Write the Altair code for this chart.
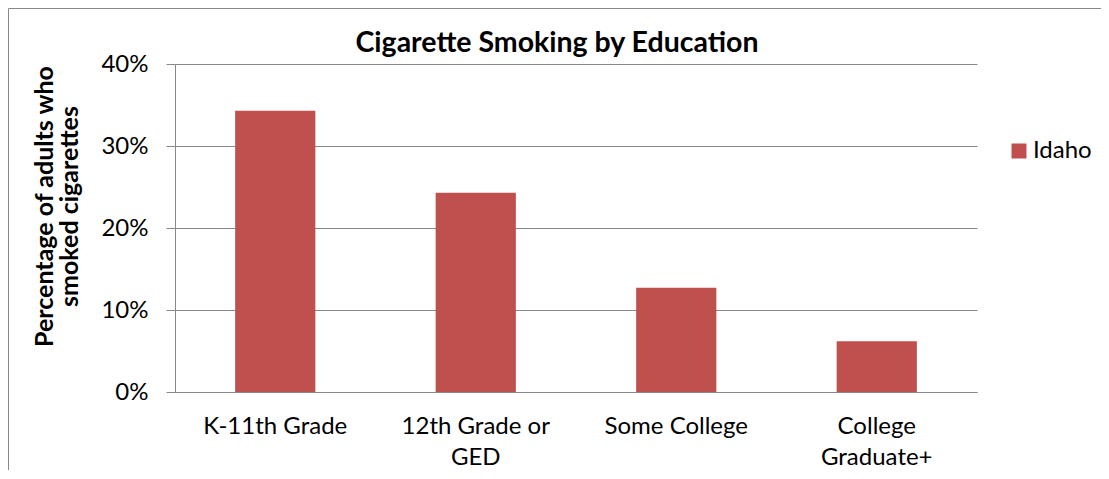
import altair as alt
import pandas as pd

categories = ["K-11th Grade", "12th Grade or GED", "Some College", "College Graduate+"]
values = [34.3, 24.3, 12.7, 6.2]
series = ["Idaho", "Idaho", "Idaho", "Idaho"]
y_ticks = [0, 10, 20, 30, 40]

df = pd.DataFrame({"Education": categories, "Pct": values, "Series": series})

FONT = "Lato"
GRAY = "#888888"
RED = "#C0504D"

label_expr = ("datum.label == '12th Grade or GED' ? ['12th Grade or', 'GED'] : "
              "datum.label == 'College Graduate+' ? ['College', 'Graduate+'] : datum.label")

bars = alt.Chart(df).mark_bar().encode(
    x=alt.X("Education:N", sort=categories,
            scale=alt.Scale(paddingInner=0.6, paddingOuter=0.3),
            axis=alt.Axis(title=None, labelAngle=0, labelExpr=label_expr,
                          labelFont=FONT, labelFontSize=24, labelColor="black",
                          labelLineHeight=31, labelPadding=22, labelBaseline="top",
                          domainColor=GRAY, domainWidth=1, ticks=False)),
    y=alt.Y("Pct:Q", scale=alt.Scale(domain=[0, 40]),
            axis=alt.Axis(values=y_ticks, labelExpr="datum.value + '%'",
                          title=["Percentage of adults who", "smoked cigarettes"],
                          titleFont=FONT, titleFontSize=25, titleFontWeight="bold",
                          titleColor="black", titleAngle=-90, titleAlign="center",
                          titleBaseline="middle", titleX=-131, titleY=142,
                          titleLineHeight=25,
                          labelFont=FONT, labelFontSize=24, labelColor="black",
                          labelPadding=18, tickSize=9, tickColor=GRAY,
                          domainColor=GRAY, grid=True, gridColor=GRAY, gridWidth=1)),
    color=alt.Color("Series:N", scale=alt.Scale(range=[RED]),
                    legend=alt.Legend(title=None, orient="none", legendX=832, legendY=75,
                                      symbolType="square", symbolSize=225,
                                      symbolStrokeWidth=0, symbolOpacity=1,
                                      labelFont=FONT, labelFontSize=24, labelColor="black",
                                      labelOffset=2, padding=0)),
)

frame_src = alt.Chart(pd.DataFrame({"k": [0]}))
frame_top = frame_src.mark_rule(color=GRAY, strokeWidth=1).encode(
    x=alt.value(-166.5), x2=alt.value(1200), y=alt.value(-55.5))
frame_left = frame_src.mark_rule(color=GRAY, strokeWidth=1).encode(
    x=alt.value(-166.5), y=alt.value(-55.5), y2=alt.value(600))

chart = alt.layer(frame_top, frame_left, bars).properties(
    width=802, height=328,
    autosize=alt.AutoSizeParams(type="none"),
    padding={"left": 167, "top": 56, "right": 124, "bottom": 78},
    title=alt.TitleParams("Cigarette Smoking by Education", font=FONT, fontSize=28.5,
                          fontWeight="bold", color="black", anchor="middle",
                          frame="group", dx=-19, baseline="alphabetic", dy=76),
).configure_view(stroke=None)

chart.save("out.html", embed_options={"renderer": "svg", "actions": False})
